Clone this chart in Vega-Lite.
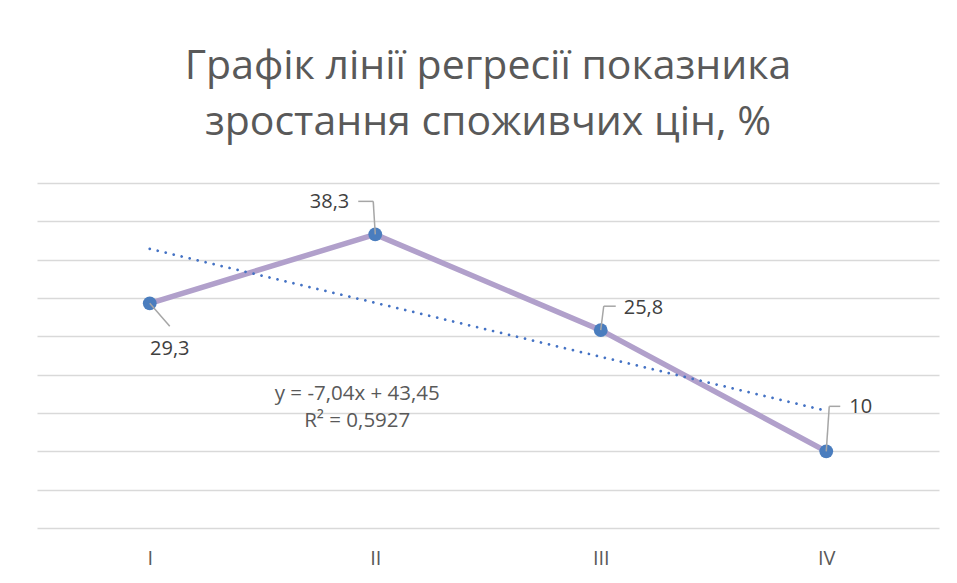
{
  "$schema": "https://vega.github.io/schema/vega-lite/v6.json",
  "autosize": {"type": "none"},
  "width": 902,
  "height": 345,
  "padding": {"left": 37, "top": 183, "right": 18, "bottom": 55},
  "background": "white",
  "config": {
    "view": {"stroke": null},
    "font": "Open Sans",
    "text": {"font": "Open Sans", "color": "#404040"},
    "axisY": {
      "title": null,
      "labels": false,
      "ticks": false,
      "domain": false,
      "tickCount": 9,
      "gridColor": "#D9D9D9",
      "gridWidth": 1.6
    }
  },
  "title": {
    "text": ["Графік лінії регресії показника", "зростання споживчих цін, %"],
    "font": "Open Sans",
    "fontSize": 41,
    "fontWeight": "normal",
    "color": "#595959",
    "anchor": "middle",
    "lineHeight": 56,
    "baseline": "alphabetic",
    "offset": 7
  },
  "data": {
    "values": [
      {"label": "I", "value": 29.3, "trend": 36.41, "text": "29,3"},
      {"label": "II", "value": 38.3, "trend": 29.37, "text": "38,3"},
      {"label": "III", "value": 25.8, "trend": 22.33, "text": "25,8"},
      {"label": "IV", "value": 10, "trend": 15.29, "text": "10"}
    ]
  },
  "encoding": {
    "x": {
      "field": "label",
      "type": "ordinal",
      "sort": null,
      "scale": {"type": "point", "padding": 0.5},
      "axis": {
        "title": null,
        "domain": false,
        "ticks": false,
        "grid": false,
        "labelAngle": 0,
        "labelFont": "Open Sans",
        "labelFontSize": 20,
        "labelColor": "#595959",
        "labelPadding": 20
      }
    },
    "y": {
      "field": "value",
      "type": "quantitative",
      "scale": {"domain": [0, 45], "nice": false}
    }
  },
  "layer": [
    {
      "mark": {"type": "line", "color": "#B1A0CB", "strokeWidth": 5.5}
    },
    {
      "mark": {"type": "line", "color": "#4472C4", "strokeWidth": 2.75, "strokeDash": [0.01, 8.2], "strokeCap": "round"},
      "encoding": {"y": {"field": "trend", "type": "quantitative", "scale": {"domain": [0, 45], "nice": false}}}
    },
    {
      "mark": {"type": "point", "shape": "circle", "filled": true, "opacity": 1, "color": "#4A7DBE", "size": 190}
    },
    {
      "transform": [{"filter": "datum.label === 'I'"}],
      "mark": {"type": "rule", "color": "#A6A6A6", "strokeWidth": 1.5, "x2Offset": 20, "y2Offset": 23},
      "encoding": {"x2": {"field": "label"}, "y2": {"field": "value"}}
    },
    {
      "transform": [{"filter": "datum.label === 'I'"}],
      "mark": {"type": "text", "fontSize": 20, "align": "center", "baseline": "middle", "dx": 20, "dy": 46},
      "encoding": {"text": {"field": "text"}}
    },
    {
      "transform": [{"filter": "datum.label === 'II'"}],
      "mark": {"type": "rule", "color": "#A6A6A6", "strokeWidth": 1.5, "x2Offset": -2, "y2Offset": -33},
      "encoding": {"x2": {"field": "label"}, "y2": {"field": "value"}}
    },
    {
      "transform": [{"filter": "datum.label === 'II'"}],
      "mark": {"type": "rule", "color": "#A6A6A6", "strokeWidth": 1.5, "xOffset": -2, "yOffset": -33, "x2Offset": -17, "y2Offset": -33},
      "encoding": {"x2": {"field": "label"}, "y2": {"field": "value"}}
    },
    {
      "transform": [{"filter": "datum.label === 'II'"}],
      "mark": {"type": "text", "fontSize": 20, "align": "right", "baseline": "middle", "dx": -26, "dy": -32},
      "encoding": {"text": {"field": "text"}}
    },
    {
      "transform": [{"filter": "datum.label === 'III'"}],
      "mark": {"type": "rule", "color": "#A6A6A6", "strokeWidth": 1.5, "x2Offset": 3, "y2Offset": -24},
      "encoding": {"x2": {"field": "label"}, "y2": {"field": "value"}}
    },
    {
      "transform": [{"filter": "datum.label === 'III'"}],
      "mark": {"type": "rule", "color": "#A6A6A6", "strokeWidth": 1.5, "xOffset": 3, "yOffset": -24, "x2Offset": 15, "y2Offset": -24},
      "encoding": {"x2": {"field": "label"}, "y2": {"field": "value"}}
    },
    {
      "transform": [{"filter": "datum.label === 'III'"}],
      "mark": {"type": "text", "fontSize": 20, "align": "left", "baseline": "middle", "dx": 23, "dy": -22},
      "encoding": {"text": {"field": "text"}}
    },
    {
      "transform": [{"filter": "datum.label === 'IV'"}],
      "mark": {"type": "rule", "color": "#A6A6A6", "strokeWidth": 1.5, "x2Offset": 3, "y2Offset": -45},
      "encoding": {"x2": {"field": "label"}, "y2": {"field": "value"}}
    },
    {
      "transform": [{"filter": "datum.label === 'IV'"}],
      "mark": {"type": "rule", "color": "#A6A6A6", "strokeWidth": 1.5, "xOffset": 3, "yOffset": -45, "x2Offset": 14, "y2Offset": -45},
      "encoding": {"x2": {"field": "label"}, "y2": {"field": "value"}}
    },
    {
      "transform": [{"filter": "datum.label === 'IV'"}],
      "mark": {"type": "text", "fontSize": 20, "align": "left", "baseline": "middle", "dx": 23, "dy": -44},
      "encoding": {"text": {"field": "text"}}
    },
    {
      "transform": [{"filter": "datum.label === 'II'"}],
      "mark": {"type": "text", "fontSize": 20.5, "align": "center", "baseline": "middle", "lineHeight": 27, "color": "#595959", "dx": -18,
        "text": ["y = -7,04x + 43,45", "R² = 0,5927"]},
      "encoding": {"y": {"datum": 17.5, "type": "quantitative", "scale": {"domain": [0, 45], "nice": false}}}
    }
  ]
}
